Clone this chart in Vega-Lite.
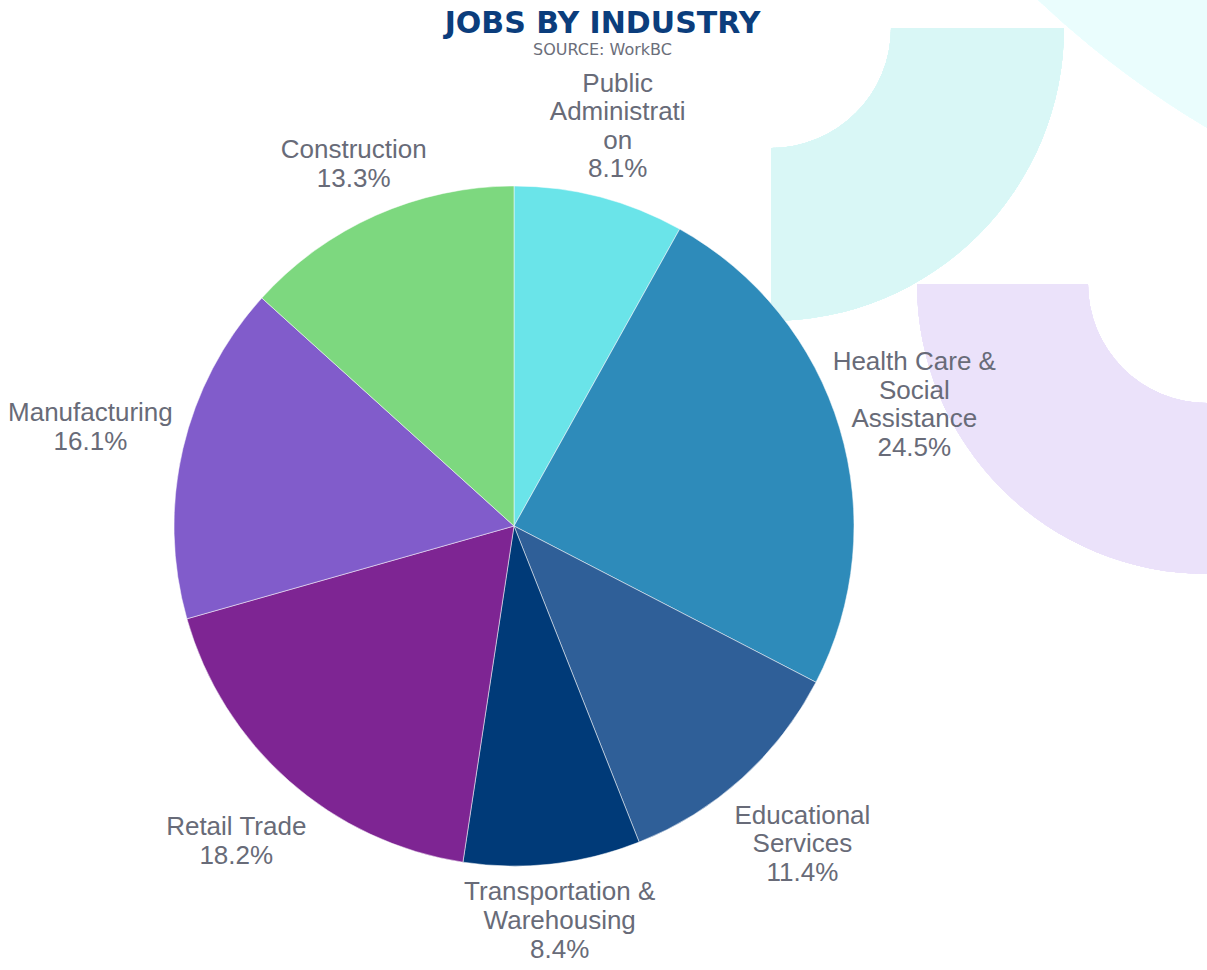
{
  "$schema": "https://vega.github.io/schema/vega-lite/v6.json",
  "autosize": {"type": "none"},
  "width": 1207,
  "height": 970,
  "padding": 0,
  "background": "#ffffff",
  "title": {
    "text": "JOBS BY INDUSTRY",
    "subtitle": "SOURCE: WorkBC",
    "anchor": "middle",
    "frame": "group",
    "dx": -1,
    "offset": -58,
    "font": "DejaVu Sans",
    "fontSize": 30,
    "fontWeight": "bold",
    "color": "#0b3d7c",
    "subtitleFont": "DejaVu Sans",
    "subtitleFontSize": 16,
    "subtitleColor": "#6b6e7a",
    "subtitlePadding": 3
  },
  "data": {
    "values": [
      {"industry": "Public Administration", "pct": 8.1, "rank": 1, "label": "Public\nAdministrati\non\n8.1%"},
      {"industry": "Health Care & Social Assistance", "pct": 24.5, "rank": 2, "label": "Health Care &\nSocial\nAssistance\n24.5%"},
      {"industry": "Educational Services", "pct": 11.4, "rank": 3, "label": "Educational\nServices\n11.4%"},
      {"industry": "Transportation & Warehousing", "pct": 8.4, "rank": 4, "label": "Transportation &\nWarehousing\n8.4%"},
      {"industry": "Retail Trade", "pct": 18.2, "rank": 5, "label": "Retail Trade\n18.2%"},
      {"industry": "Manufacturing", "pct": 16.1, "rank": 6, "label": "Manufacturing\n16.1%"},
      {"industry": "Construction", "pct": 13.3, "rank": 7, "label": "Construction\n13.3%"}
    ]
  },
  "encoding": {
    "x": {"datum": 514, "type": "quantitative", "scale": {"domain": [0, 1207], "range": [0, 1207], "zero": false, "nice": false}, "axis": null},
    "y": {"datum": 526, "type": "quantitative", "scale": {"domain": [0, 970], "range": [0, 970], "zero": false, "nice": false}, "axis": null}
  },
  "layer": [
    {
      "mark": {"type": "arc", "clip": true, "theta": 0, "theta2": 6.2832, "outerRadius": 969, "innerRadius": 0, "color": "#eafdfd"},
      "encoding": {
        "x": {"datum": 1704, "type": "quantitative"},
        "y": {"datum": -704, "type": "quantitative"}
      }
    },
    {
      "mark": {"type": "arc", "clip": true, "theta": 1.5708, "theta2": 3.1416, "outerRadius": 293, "innerRadius": 120, "color": "#d9f7f6"},
      "encoding": {
        "x": {"datum": 771, "type": "quantitative"},
        "y": {"datum": 28, "type": "quantitative"}
      }
    },
    {
      "mark": {"type": "arc", "clip": true, "theta": 3.1416, "theta2": 4.7124, "outerRadius": 290, "innerRadius": 119, "color": "#ebe2fa"},
      "encoding": {
        "x": {"datum": 1207, "type": "quantitative"},
        "y": {"datum": 284, "type": "quantitative"}
      }
    },
    {
      "mark": {"type": "arc", "outerRadius": 340, "stroke": "#ffffff", "strokeWidth": 0.5},
      "encoding": {
        "theta": {"field": "pct", "type": "quantitative", "stack": true},
        "order": {"field": "rank", "type": "quantitative"},
        "color": {
          "field": "industry",
          "type": "nominal",
          "legend": null,
          "scale": {
            "domain": ["Public Administration", "Health Care & Social Assistance", "Educational Services", "Transportation & Warehousing", "Retail Trade", "Manufacturing", "Construction"],
            "range": ["#6ae4e9", "#2e8bba", "#2f5f98", "#003a78", "#7e2593", "#815ccb", "#7dd87f"]
          }
        }
      }
    },
    {
      "mark": {"type": "text", "radius": 412, "dy": -43.5, "align": "center", "baseline": "middle", "lineBreak": "\n", "lineHeight": 28.5, "font": "Liberation Sans", "fontSize": 26, "color": "#686b78"},
      "encoding": {
        "theta": {"field": "pct", "type": "quantitative", "stack": true},
        "order": {"field": "rank", "type": "quantitative"},
        "text": {"condition": {"test": "datum.industry === 'Public Administration'", "field": "label"}, "value": ""}
      }
    },
    {
      "mark": {"type": "text", "radius": 418, "dy": -43.5, "align": "center", "baseline": "middle", "lineBreak": "\n", "lineHeight": 28.5, "font": "Liberation Sans", "fontSize": 26, "color": "#686b78"},
      "encoding": {
        "theta": {"field": "pct", "type": "quantitative", "stack": true},
        "order": {"field": "rank", "type": "quantitative"},
        "text": {"condition": {"test": "datum.industry === 'Health Care & Social Assistance'", "field": "label"}, "value": ""}
      }
    },
    {
      "mark": {"type": "text", "radius": 430, "dy": -29, "align": "center", "baseline": "middle", "lineBreak": "\n", "lineHeight": 28.5, "font": "Liberation Sans", "fontSize": 26, "color": "#686b78"},
      "encoding": {
        "theta": {"field": "pct", "type": "quantitative", "stack": true},
        "order": {"field": "rank", "type": "quantitative"},
        "text": {"condition": {"test": "datum.industry === 'Educational Services'", "field": "label"}, "value": ""}
      }
    },
    {
      "mark": {"type": "text", "radius": 405, "dy": -36, "align": "center", "baseline": "middle", "lineBreak": "\n", "lineHeight": 29, "font": "Liberation Sans", "fontSize": 26, "color": "#686b78"},
      "encoding": {
        "theta": {"field": "pct", "type": "quantitative", "stack": true},
        "order": {"field": "rank", "type": "quantitative"},
        "text": {"condition": {"test": "datum.industry === 'Transportation & Warehousing'", "field": "label"}, "value": ""}
      }
    },
    {
      "mark": {"type": "text", "radius": 435, "dy": -14.5, "align": "center", "baseline": "middle", "lineBreak": "\n", "lineHeight": 29, "font": "Liberation Sans", "fontSize": 26, "color": "#686b78"},
      "encoding": {
        "theta": {"field": "pct", "type": "quantitative", "stack": true},
        "order": {"field": "rank", "type": "quantitative"},
        "text": {"condition": {"test": "datum.industry === 'Manufacturing'", "field": "label"}, "value": ""}
      }
    },
    {
      "mark": {"type": "text", "radius": 420, "dy": -14.5, "align": "center", "baseline": "middle", "lineBreak": "\n", "lineHeight": 29, "font": "Liberation Sans", "fontSize": 26, "color": "#686b78"},
      "encoding": {
        "theta": {"field": "pct", "type": "quantitative", "stack": true},
        "order": {"field": "rank", "type": "quantitative"},
        "text": {"condition": {"test": "datum.industry === 'Retail Trade'", "field": "label"}, "value": ""}
      }
    },
    {
      "mark": {"type": "text", "radius": 395, "dy": -14.5, "align": "center", "baseline": "middle", "lineBreak": "\n", "lineHeight": 29, "font": "Liberation Sans", "fontSize": 26, "color": "#686b78"},
      "encoding": {
        "theta": {"field": "pct", "type": "quantitative", "stack": true},
        "order": {"field": "rank", "type": "quantitative"},
        "text": {"condition": {"test": "datum.industry === 'Construction'", "field": "label"}, "value": ""}
      }
    }
  ],
  "config": {"view": {"stroke": null}}
}
